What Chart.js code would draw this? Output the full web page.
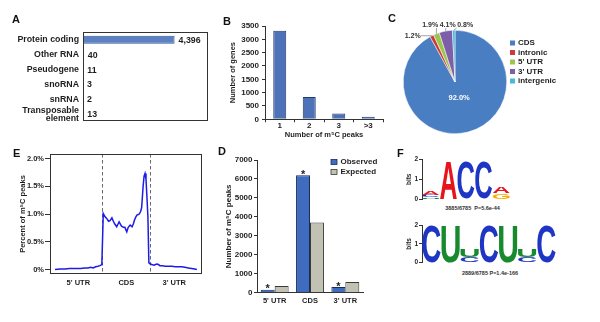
<!DOCTYPE html>
<html><head><meta charset="utf-8">
<script src="https://cdn.jsdelivr.net/npm/chart.js@4.4.1/dist/chart.umd.min.js"></script>
<style>
html,body{margin:0;padding:0;background:#fff;}
#fig{position:relative;width:600px;height:322px;overflow:hidden;background:#fff;font-family:'Liberation Sans',Arial,sans-serif;}
canvas{position:absolute;}
.lbl{position:absolute;font-weight:bold;font-size:11px;color:#111;line-height:1;}
.cap{position:absolute;font-weight:bold;font-size:5.5px;color:#333;white-space:nowrap;line-height:1;transform:translateX(-50%);}
</style></head><body>
<div id="fig">
 <canvas id="cA" width="215" height="110" style="left:0;top:20px"></canvas>
 <canvas id="cB" width="175" height="125" style="left:215px;top:15px"></canvas>
 <canvas id="cC" width="210" height="135" style="left:390px;top:10px"></canvas>
 <canvas id="cE" width="210" height="150" style="left:0;top:145px"></canvas>
 <canvas id="cD" width="175" height="160" style="left:210px;top:145px"></canvas>
 <canvas id="cF1" width="125" height="55" style="left:395px;top:150px"></canvas>
 <canvas id="cF2" width="170" height="55" style="left:395px;top:215px"></canvas>
 <div class="lbl" style="left:12px;top:13.5px">A</div>
 <div class="lbl" style="left:223px;top:15.5px">B</div>
 <div class="lbl" style="left:388px;top:12.5px">C</div>
 <div class="lbl" style="left:13px;top:147.5px">E</div>
 <div class="lbl" style="left:218px;top:145.5px">D</div>
 <div class="lbl" style="left:397px;top:147.5px">F</div>
 <div class="cap" style="left:472.5px;top:205.7px">3885/6785&nbsp;&nbsp;P=5.6e-44</div>
 <div class="cap" style="left:490px;top:270.7px">2889/6785 P=1.4e-166</div>
</div>
<script>
// ---------- data ----------
const rnaTypes = ['Protein coding','Other RNA','Pseudogene','snoRNA','snRNA',['Transposable','element']];
const rnaGeneCounts = [4396, 40, 11, 3, 2, 13];

const peakBins = ['1','2','3','>3'];
const genesPerBin = [3320, 840, 220, 100];

const regionNames = ['CDS','intronic',"5' UTR","3' UTR",'intergenic'];
const regionShares = [92.0, 1.2, 1.9, 4.1, 0.8];

const featureNames = ["5' UTR",'CDS',"3' UTR"];
const observedPeaks = [150, 6200, 300];
const expectedPeaks = [350, 3700, 560];
const enrichedMark = ['*','*','*'];

const profileLabels = ["5' UTR",'CDS',"3' UTR"];
const profileBounds = [0, 100, 200, 300];
const pctTicks = [0, 0.5, 1.0, 1.5, 2.0];
const profileX = [1.5,12,22,32,43,55,63,70,76,81,86,91,95,99,102,105,109,113,116,120,123,126,130,135,140,144,147,151,154,158,162,165,167,170,172,175,177,180,182,185,187,189,191,193,195,197,200,203,208,213,217,220,225,231,238,245,252,258,265,272,279,286,292,297];
const profilePct = [0.00,0.01,0.01,0.02,0.02,0.02,0.03,0.03,0.04,0.03,0.05,0.06,0.07,0.09,1.01,0.96,0.92,0.87,0.88,0.93,0.87,0.82,0.77,0.86,0.78,0.76,0.76,0.68,0.76,0.80,0.77,0.83,0.89,0.95,0.98,0.99,1.00,1.05,1.12,1.50,1.68,1.73,1.63,1.30,0.95,0.12,0.10,0.09,0.08,0.10,0.09,0.07,0.07,0.06,0.06,0.06,0.05,0.05,0.05,0.04,0.03,0.02,0.01,0.00];

const motif1Pos = ['1','2','3','4','5'];
const motif1U = [0.10, 0, 0, 0, 0];
const motif1G = [0, 0, 0, 0, 0.30];
const motif1C = [0.12, 0, 1.88, 1.83, 0];
const motif1A = [0.22, 1.93, 0, 0, 0.30];

const motif2Pos = ['1','2','3','4','5','6','7'];
const motif2C = [1.95, 0, 0.30, 1.95, 0, 0.30, 1.95];
const motif2U = [0, 1.95, 0.42, 0, 1.95, 0.42, 0];

// ---------- styles ----------
const FONT = "'Liberation Sans', Arial, Helvetica, sans-serif";
const INK = '#1e1e1e';
const AXIS = '#333';
const pieColors = ['#4a7ec2','#cc3b38','#9cc550','#7d5ea8','#48b9d8'];
const letterColors = {A:'#e8141c', C:'#1f36c4', G:'#f6b100', U:'#178a2e'};

Chart.defaults.font.family = FONT;
Chart.defaults.font.weight = 'bold';
Chart.defaults.color = INK;
Chart.defaults.animation = false;
Chart.defaults.responsive = false;
Chart.defaults.plugins.legend.display = false;
Chart.defaults.plugins.tooltip.enabled = false;

const f = (size, lh) => ({family: FONT, size, weight: 'bold', lineHeight: lh || 1.2});
const plain = v => String(v);

const frame = {id: 'frame', afterDraw(c) {
  const {left, top, right, bottom} = c.chartArea, ctx = c.ctx;
  ctx.save(); ctx.strokeStyle = AXIS; ctx.lineWidth = 1;
  ctx.strokeRect(Math.round(left) + 0.5, Math.round(top) + 0.5, Math.round(right - left) - 1, Math.round(bottom - top) - 1);
  ctx.restore();
}};

// ---------- A ----------
new Chart(document.getElementById('cA'), {
  type: 'bar',
  data: {labels: rnaTypes, datasets: [{data: rnaGeneCounts, backgroundColor: '#5b80c3', borderColor: '#34558f', borderWidth: 1, barPercentage: 0.53, categoryPercentage: 1}]},
  options: {
    indexAxis: 'y',
    layout: {padding: {top: 8, bottom: 8, right: 7, left: 0}},
    scales: {
      x: {display: false, min: 0, max: 6000},
      y: {grid: {display: false, drawTicks: false}, border: {display: false},
          ticks: {autoSkip: false, padding: 4, color: INK, font: f(8.8, 0.95)}, afterFit(s) { s.width = 83; }}
    }
  },
  plugins: [frame, {id: 'vals', afterDatasetsDraw(c) {
    const ctx = c.ctx, meta = c.getDatasetMeta(0);
    ctx.save(); ctx.font = "bold 8.8px " + FONT; ctx.fillStyle = INK; ctx.textBaseline = 'middle'; ctx.textAlign = 'left';
    meta.data.forEach((b, i) => ctx.fillText(rnaGeneCounts[i].toLocaleString('en-US'), b.x + 4, b.y + 0.5));
    ctx.restore();
  }}]
});

// ---------- B ----------
new Chart(document.getElementById('cB'), {
  type: 'bar',
  data: {labels: peakBins, datasets: [{data: genesPerBin, backgroundColor: '#4e72b8', borderColor: '#1f3a70', borderWidth: 1, barPercentage: 0.44, categoryPercentage: 1}]},
  options: {
    layout: {padding: {top: 11, right: 7, left: 0, bottom: 0}},
    scales: {
      y: {min: 0, max: 3500, ticks: {stepSize: 500, padding: 3, font: f(8), color: INK, callback: plain},
          grid: {drawOnChartArea: false, tickLength: 3, color: AXIS}, border: {color: AXIS},
          title: {display: true, text: 'Number of genes', font: f(7.5), color: INK, padding: {top: 13.8, bottom: 0}},
          afterFit(s) { s.width = 50; }},
      x: {grid: {drawOnChartArea: false, tickLength: 3, color: AXIS, offset: true}, border: {color: AXIS},
          ticks: {padding: -1, font: f(8), color: INK},
          title: {display: true, text: 'Number of m\u2075C peaks', font: f(7.5), color: INK, padding: {top: 0, bottom: 0.5}},
          afterFit(s) { s.height = 20.7; }}
    }
  }
});

// ---------- C ----------
new Chart(document.getElementById('cC'), {
  type: 'pie',
  data: {labels: regionNames, datasets: [{data: regionShares, backgroundColor: pieColors, borderColor: '#fff', borderWidth: 0.5}]},
  options: {layout: {padding: {left: 13, top: 20, right: 93, bottom: 11}}},
  plugins: [{id: 'pieDeco', afterDatasetsDraw(c) {
    const ctx = c.ctx, meta = c.getDatasetMeta(0), vals = c.data.datasets[0].data, ca = c.chartArea;
    ctx.save();
    const small = [];
    meta.data.forEach((arc, i) => {
      const p = arc.getProps(['x', 'y', 'startAngle', 'endAngle', 'outerRadius'], true);
      const mid = (p.startAngle + p.endAngle) / 2, txt = vals[i].toFixed(1) + '%';
      if (p.endAngle - p.startAngle > Math.PI) {
        ctx.font = "bold 7.5px " + FONT; ctx.fillStyle = '#fff'; ctx.textAlign = 'center'; ctx.textBaseline = 'middle';
        ctx.fillText(txt, p.x + Math.cos(mid) * p.outerRadius * 0.32, p.y + Math.sin(mid) * p.outerRadius * 0.32);
      } else {
        small.push({txt, ex: p.x + Math.cos(mid) * p.outerRadius, ey: p.y + Math.sin(mid) * p.outerRadius,
                    dx: p.x + Math.cos(mid) * (p.outerRadius + 12)});
      }
    });
    small.sort((a, b) => a.dx - b.dx);
    const gap = 17.5, mean = small.reduce((s, o) => s + o.dx, 0) / small.length;
    small.forEach((o, k) => { o.lx = mean + (k - (small.length - 1) / 2) * gap; });
    const rowY = ca.top - 5;
    ctx.font = "bold 7px " + FONT; ctx.textAlign = 'center'; ctx.textBaseline = 'middle';
    small.forEach(o => {
      o.ly = Math.abs(o.lx - o.ex) > 15 ? o.ey : rowY;
      const w = ctx.measureText(o.txt).width, h = 6;
      const bx0 = o.lx - w / 2 - 0.5, bx1 = o.lx + w / 2 + 0.5, by0 = o.ly - h / 2, by1 = o.ly + h / 2;
      const nx = Math.min(Math.max(o.ex, bx0), bx1), ny = Math.min(Math.max(o.ey, by0), by1);
      ctx.strokeStyle = '#8a8a8a'; ctx.lineWidth = 0.8;
      ctx.beginPath(); ctx.moveTo(o.ex, o.ey); ctx.lineTo(nx, ny); ctx.stroke();
      ctx.fillStyle = '#333'; ctx.fillText(o.txt, o.lx, o.ly);
    });
    // legend
    ctx.font = "bold 8px " + FONT; ctx.textAlign = 'left'; ctx.textBaseline = 'middle';
    c.data.labels.forEach((lab, i) => {
      const y = ca.top + 13 + i * 9.5;
      ctx.fillStyle = pieColors[i]; ctx.fillRect(ca.right + 3, y - 2.5, 5, 5);
      ctx.fillStyle = INK; ctx.fillText(lab, ca.right + 11, y);
    });
    ctx.restore();
  }}]
});

// ---------- D ----------
new Chart(document.getElementById('cD'), {
  type: 'bar',
  data: {labels: featureNames, datasets: [
    {label: 'Observed', data: observedPeaks, backgroundColor: '#3f6cbf', borderColor: '#1a2d57', borderWidth: 1, barPercentage: 1, categoryPercentage: 0.79},
    {label: 'Expected', data: expectedPeaks, backgroundColor: '#c2c2b3', borderColor: '#3a3a3a', borderWidth: 1, barPercentage: 1, categoryPercentage: 0.79}
  ]},
  options: {
    layout: {padding: {top: 15, right: 22, left: 0, bottom: 0}},
    scales: {
      y: {min: 0, max: 7000, ticks: {stepSize: 1000, padding: 1.5, font: f(8), color: INK, callback: plain},
          grid: {drawOnChartArea: false, tickLength: 3, color: AXIS}, border: {color: AXIS},
          title: {display: true, text: 'Number of m\u2075C peaks', font: f(8), color: INK, padding: {top: 13.5, bottom: 0}},
          afterFit(s) { s.width = 47; }},
      x: {grid: {drawOnChartArea: false, drawTicks: false}, border: {color: AXIS},
          ticks: {padding: 3.5, font: f(7.5), color: INK}, afterFit(s) { s.height = 12.3; }}
    }
  },
  plugins: [{id: 'dDeco', afterDatasetsDraw(c) {
    const ctx = c.ctx, ca = c.chartArea;
    ctx.save();
    ctx.font = "bold 11px " + FONT; ctx.fillStyle = INK; ctx.textAlign = 'center'; ctx.textBaseline = 'alphabetic';
    c.getDatasetMeta(0).data.forEach((b, i) => { if (enrichedMark[i]) ctx.fillText(enrichedMark[i], b.x, b.y + 2.5); });
    ctx.font = "bold 8px " + FONT; ctx.textAlign = 'left'; ctx.textBaseline = 'middle';
    c.data.datasets.forEach((ds, i) => {
      const y = ca.top + 2 + i * 10, x = ca.right - 32;
      ctx.fillStyle = ds.backgroundColor; ctx.fillRect(x, y - 2.5, 6, 5);
      ctx.strokeStyle = ds.borderColor; ctx.lineWidth = 0.8; ctx.strokeRect(x, y - 2.5, 6, 5);
      ctx.fillStyle = INK; ctx.fillText(ds.label, x + 9.5, y);
    });
    ctx.restore();
  }}]
});

// ---------- E ----------
const regionMids = profileBounds.slice(0, -1).map((b, i) => (b + profileBounds[i + 1]) / 2);
new Chart(document.getElementById('cE'), {
  type: 'line',
  data: {datasets: [{data: profileX.map((x, i) => ({x, y: profilePct[i]})), borderColor: '#1c1ce6', borderWidth: 1.5, pointRadius: 0, tension: 0}]},
  options: {
    layout: {padding: {top: 9, right: 8, left: 0, bottom: 0}},
    scales: {
      x: {type: 'linear', min: -9, max: 307.7, grid: {display: false, drawTicks: false}, border: {display: false},
          afterBuildTicks(s) { s.ticks = regionMids.map(v => ({value: v})); },
          ticks: {autoSkip: false, maxRotation: 0, padding: 4, font: f(7.5), color: INK, callback: (v, i) => profileLabels[i]},
          afterFit(s) { s.height = 21; }},
      y: {min: -0.08, max: 2.08, grid: {drawOnChartArea: false, tickLength: 5, color: AXIS}, border: {display: false},
          afterBuildTicks(s) { s.ticks = pctTicks.map(v => ({value: v})); },
          ticks: {padding: 1, font: f(7.5), color: INK, callback: v => v === 0 ? '0%' : v.toFixed(1) + '%'},
          title: {display: true, text: 'Percent of m\u2075C peaks', font: f(7.5), color: INK, padding: {top: 18.2, bottom: 0}},
          afterFit(s) { s.width = 50; }}
    }
  },
  plugins: [frame, {id: 'bounds', beforeDatasetsDraw(c) {
    const ctx = c.ctx, ca = c.chartArea, xs = c.scales.x;
    ctx.save(); ctx.strokeStyle = '#6a6a6a'; ctx.lineWidth = 1; ctx.setLineDash([3.5, 2.5]);
    profileBounds.slice(1, -1).forEach(b => {
      const x = Math.round(xs.getPixelForValue(b)) + 0.5;
      ctx.beginPath(); ctx.moveTo(x, ca.top); ctx.lineTo(x, ca.bottom); ctx.stroke();
    });
    ctx.restore();
  }}]
});

// ---------- F ----------
function drawGlyph(ctx, ch, color, x, y, w, h) {
  ctx.save();
  ctx.font = "bold 100px " + FONT;
  const m = ctx.measureText(ch);
  const gw = m.actualBoundingBoxLeft + m.actualBoundingBoxRight;
  const gh = m.actualBoundingBoxAscent + m.actualBoundingBoxDescent;
  ctx.translate(x, y);
  ctx.scale(w / gw, h / gh);
  ctx.fillStyle = color; ctx.textAlign = 'left'; ctx.textBaseline = 'alphabetic';
  ctx.fillText(ch, m.actualBoundingBoxLeft, m.actualBoundingBoxAscent);
  ctx.restore();
}
const logoLetters = {id: 'logoLetters', afterDatasetsDraw(c) {
  c.data.datasets.forEach((ds, di) => {
    c.getDatasetMeta(di).data.forEach(bar => {
      const p = bar.getProps(['x', 'y', 'base', 'width'], true);
      const h = p.base - p.y;
      if (h < 0.3) return;
      drawGlyph(c.ctx, ds.label, letterColors[ds.label], p.x - p.width / 2, p.y, p.width, h);
    });
  });
}};
function logo(id, labels, sets, pad) {
  new Chart(document.getElementById(id), {
    type: 'bar',
    data: {labels, datasets: sets.map(([label, data]) => ({label, data, backgroundColor: 'rgba(0,0,0,0)', borderWidth: 0, barPercentage: 0.96, categoryPercentage: 1}))},
    options: {
      layout: {padding: pad},
      scales: {
        x: {display: false, stacked: true},
        y: {stacked: true, min: 0, max: 2, ticks: {stepSize: 1, padding: 1, font: f(6.5), color: INK},
            grid: {drawOnChartArea: false, tickLength: 3, color: AXIS}, border: {color: AXIS},
            title: {display: true, text: 'bits', font: f(6.5), color: INK, padding: {top: 10.4, bottom: 0}},
            afterFit(s) { s.width = 27; }}
      }
    },
    plugins: [logoLetters]
  });
}
logo('cF1', motif1Pos, [['U', motif1U], ['G', motif1G], ['C', motif1C], ['A', motif1A]], {top: 9.3, bottom: 5.7, right: 10, left: 0});
logo('cF2', motif2Pos, [['C', motif2C], ['U', motif2U]], {top: 10, bottom: 7.3, right: 9, left: 0});
</script>
</body></html>
